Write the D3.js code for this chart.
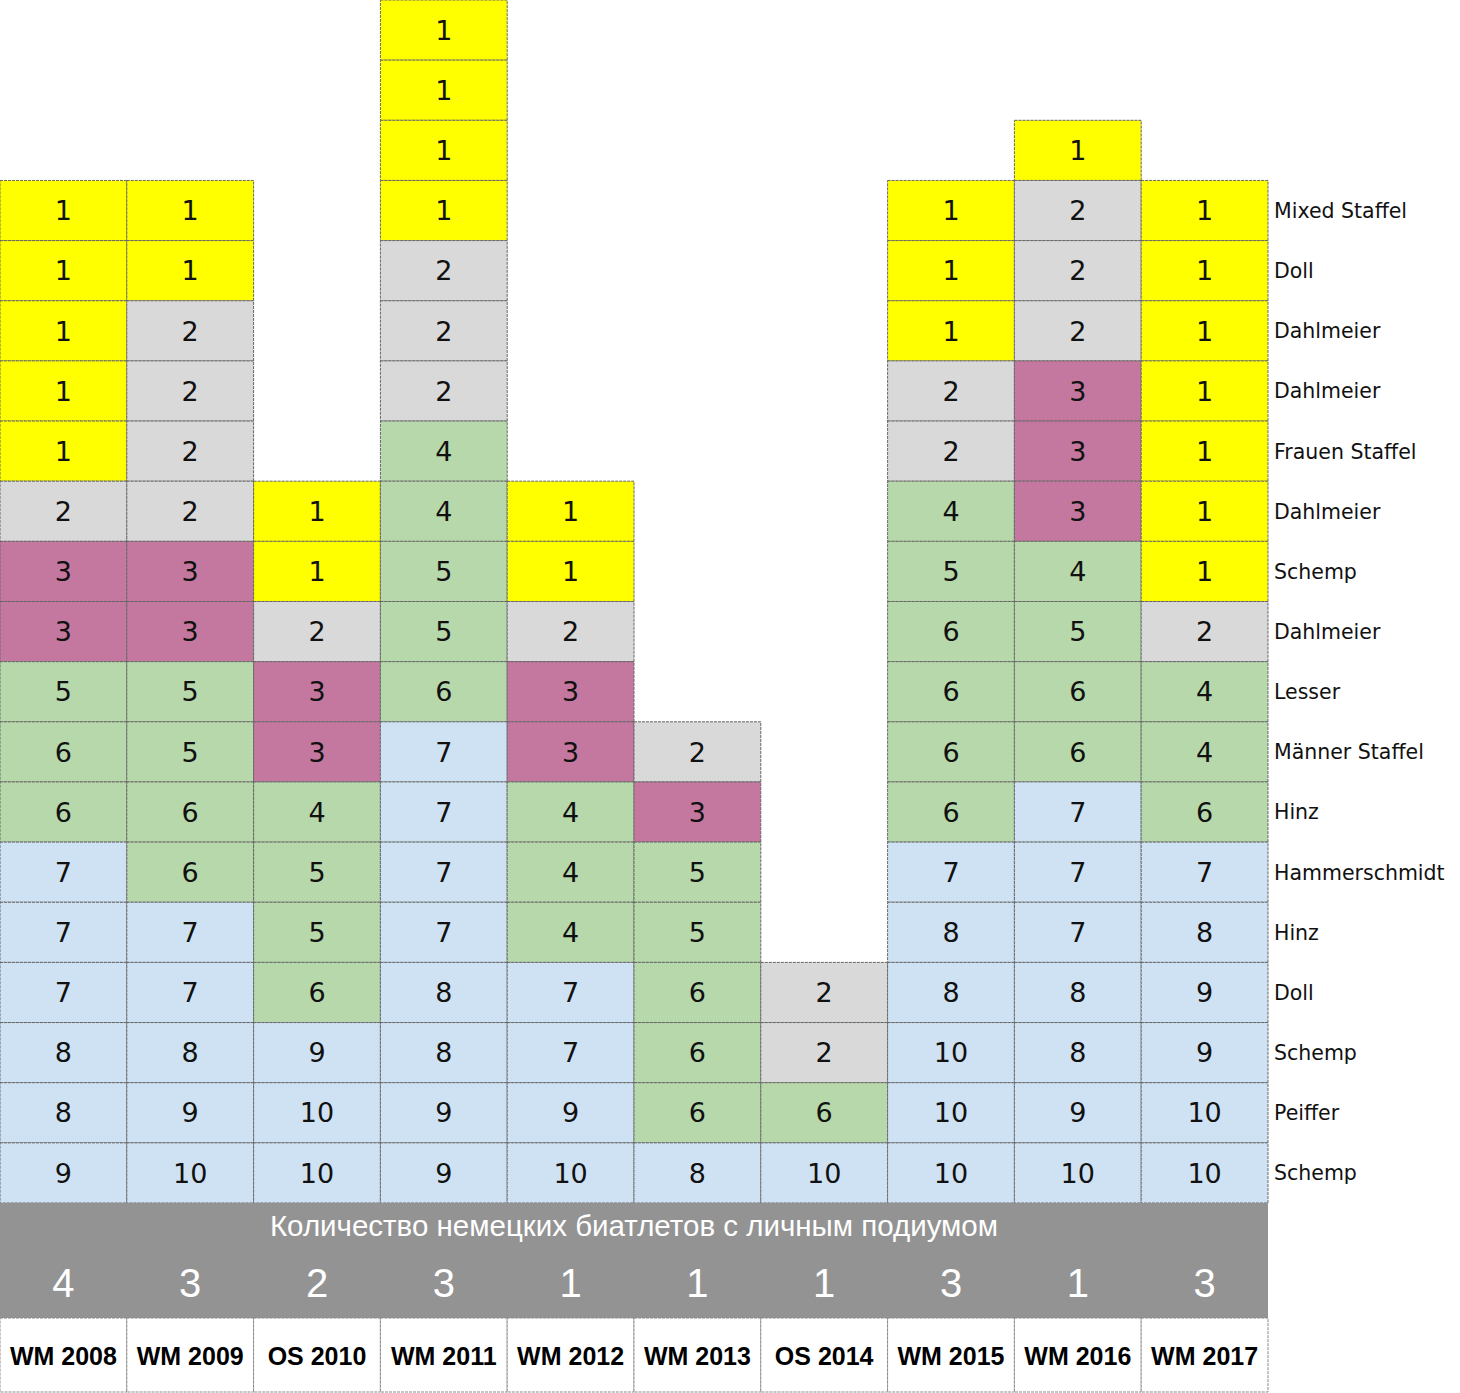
<!DOCTYPE html>
<html>
<head>
<meta charset="utf-8">
<script src="https://cdn.jsdelivr.net/npm/d3@7"></script>
<style>
  body { margin: 0; background: #fff; }
</style>
</head>
<body>
<div id="chart"></div>
<script>
var events = ["WM 2008", "WM 2009", "OS 2010", "WM 2011", "WM 2012", "WM 2013", "OS 2014", "WM 2015", "WM 2016", "WM 2017"];

// Placements per event, listed from top cell to bottom cell
var wm2008 = [1, 1, 1, 1, 1, 2, 3, 3, 5, 6, 6, 7, 7, 7, 8, 8, 9];
var wm2009 = [1, 1, 2, 2, 2, 2, 3, 3, 5, 5, 6, 6, 7, 7, 8, 9, 10];
var os2010 = [1, 1, 2, 3, 3, 4, 5, 5, 6, 9, 10, 10];
var wm2011 = [1, 1, 1, 1, 2, 2, 2, 4, 4, 5, 5, 6, 7, 7, 7, 7, 8, 8, 9, 9];
var wm2012 = [1, 1, 2, 3, 3, 4, 4, 4, 7, 7, 9, 10];
var wm2013 = [2, 3, 5, 5, 6, 6, 6, 8];
var os2014 = [2, 2, 6, 10];
var wm2015 = [1, 1, 1, 2, 2, 4, 5, 6, 6, 6, 6, 7, 8, 8, 10, 10, 10];
var wm2016 = [1, 2, 2, 2, 3, 3, 3, 4, 5, 6, 6, 7, 7, 7, 8, 8, 9, 10];
var wm2017 = [1, 1, 1, 1, 1, 1, 1, 2, 4, 4, 6, 7, 8, 9, 9, 10, 10];
var placements = [wm2008, wm2009, os2010, wm2011, wm2012, wm2013, os2014, wm2015, wm2016, wm2017];

// Athlete / race labels on the right, from top to bottom
var rowLabels = ["Mixed Staffel", "Doll", "Dahlmeier", "Dahlmeier", "Frauen Staffel", "Dahlmeier",
  "Schemp", "Dahlmeier", "Lesser", "Männer Staffel", "Hinz", "Hammerschmidt", "Hinz", "Doll",
  "Schemp", "Peiffer", "Schemp"];

// German athletes with an individual podium
var podiumCount = [4, 3, 2, 3, 1, 1, 1, 3, 1, 3];
var bandTitle = "Количество немецких биатлетов с личным подиумом";

var nRows = 20;
var gridW = 1268, gridH = 1203;
var bandH = 115, labelH = 75;

var svg = d3.select("#chart").append("svg")
  .attr("width", 1460)
  .attr("height", 1393);

var x = d3.scaleBand().domain(events).range([0, gridW]);
var y = d3.scaleBand().domain(d3.range(nRows)).range([0, gridH]);

var color = d3.scaleThreshold()
  .domain([2, 3, 4, 7])
  .range(["#ffff00", "#d9d9d9", "#c5789f", "#b7d8ab", "#cfe2f3"]);

// flatten into cells, aligned to the bottom row
var cells = [];
placements.forEach(function(col, i) {
  col.forEach(function(v, j) {
    cells.push({event: events[i], row: nRows - col.length + j, value: v});
  });
});

var cell = svg.append("g").selectAll("g.cell")
  .data(cells)
  .enter().append("g")
  .attr("class", "cell")
  .attr("transform", function(d) { return "translate(" + x(d.event) + "," + y(d.row) + ")"; });

cell.append("rect")
  .attr("width", x.bandwidth())
  .attr("height", y.bandwidth())
  .style("fill", function(d) { return color(d.value); })
  .style("stroke", "#666")
  .style("stroke-width", 1)
  .style("stroke-dasharray", "3,1");

cell.append("text")
  .attr("x", x.bandwidth() / 2)
  .attr("y", y.bandwidth() / 2)
  .attr("dy", "0.36em")
  .attr("text-anchor", "middle")
  .style("font-family", "DejaVu Sans, Verdana, sans-serif")
  .style("font-size", "27px")
  .style("fill", "#111")
  .text(function(d) { return d.value; });

// labels at the right
svg.append("g").selectAll("text")
  .data(rowLabels)
  .enter().append("text")
  .attr("x", gridW + 6)
  .attr("y", function(d, i) { return y(nRows - rowLabels.length + i) + y.bandwidth() / 2; })
  .attr("dy", "0.36em")
  .style("font-family", "DejaVu Sans, Verdana, sans-serif")
  .style("font-size", "20.5px")
  .style("fill", "#111")
  .text(function(d) { return d; });

// grey band with podium counts
var band = svg.append("g").attr("transform", "translate(0," + gridH + ")");
band.append("rect")
  .attr("width", gridW)
  .attr("height", bandH)
  .style("fill", "#939393");
band.append("text")
  .attr("x", gridW / 2)
  .attr("y", 22)
  .attr("dy", "0.36em")
  .attr("text-anchor", "middle")
  .style("font-family", "Liberation Sans, Arial, sans-serif")
  .style("font-size", "29.5px")
  .style("fill", "#fff")
  .text(bandTitle);
band.selectAll("text.count")
  .data(podiumCount)
  .enter().append("text")
  .attr("class", "count")
  .attr("x", function(d, i) { return x(events[i]) + x.bandwidth() / 2; })
  .attr("y", 80)
  .attr("dy", "0.36em")
  .attr("text-anchor", "middle")
  .style("font-family", "Liberation Sans, Arial, sans-serif")
  .style("font-size", "40px")
  .style("fill", "#fff")
  .text(function(d) { return d; });

// event names
var labels = svg.append("g").attr("transform", "translate(0," + (gridH + bandH) + ")");
var lab = labels.selectAll("g")
  .data(events)
  .enter().append("g")
  .attr("transform", function(d) { return "translate(" + x(d) + ",0)"; });
lab.append("rect")
  .attr("width", x.bandwidth())
  .attr("height", labelH - 1)
  .style("fill", "#fff")
  .style("stroke", "#888")
  .style("stroke-dasharray", "3,1");
lab.append("text")
  .attr("x", x.bandwidth() / 2)
  .attr("y", labelH / 2)
  .attr("dy", "0.36em")
  .attr("text-anchor", "middle")
  .style("font-family", "Liberation Sans, Arial, sans-serif")
  .style("font-weight", "bold")
  .style("font-size", "25px")
  .style("fill", "#000")
  .text(function(d) { return d; });
</script>
</body>
</html>
